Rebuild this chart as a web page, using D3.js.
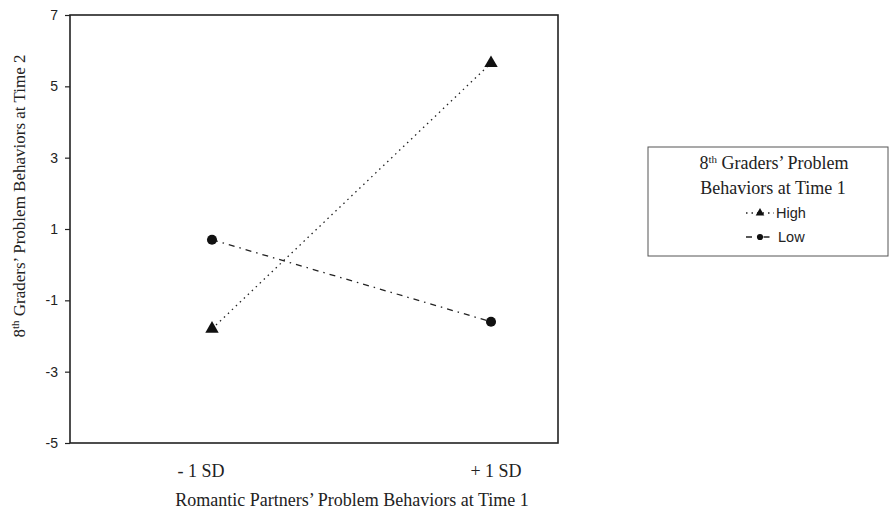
<!DOCTYPE html>
<html>
<head>
<meta charset="utf-8">
<script src="https://cdn.jsdelivr.net/npm/d3@7"></script>
<style>
body { margin: 0; background: #fff; }
.serif { font-family: "Liberation Serif", "Times New Roman", serif; }
.sans { font-family: "Liberation Sans", Arial, sans-serif; }
</style>
</head>
<body>
<svg width="889" height="514"></svg>
<script>
// data
var categories = ["- 1 SD", "+ 1 SD"];
var highValues = [-1.8, 5.65];
var lowValues = [0.7, -1.6];
var yTicks = [-5, -3, -1, 1, 3, 5, 7];
var seriesNames = ["High", "Low"];

var svg = d3.select("svg");
var margin = {top: 15, left: 70};
var width = 488, height = 428;

var xScale = d3.scalePoint().domain(categories).range([142, 421]);
var xLabelScale = d3.scalePoint().domain(categories).range([131, 426]);
var yScale = d3.scaleLinear().domain([-5, 7]).range([height, 0]);

var g = svg.append("g")
    .attr("transform", "translate(" + margin.left + "," + margin.top + ")");

// frame
g.append("rect")
    .attr("x", 0).attr("y", 0)
    .attr("width", width).attr("height", height)
    .attr("fill", "none").attr("stroke", "#222").attr("stroke-width", 1.6);

// y axis
var yAxis = d3.axisLeft(yScale)
    .tickValues(yTicks)
    .tickSize(5)
    .tickPadding(7)
    .tickFormat(function (d) { return String(d); });
var yAxisG = g.append("g").call(yAxis);
yAxisG.select(".domain").remove();
yAxisG.selectAll("line").attr("stroke", "#222").attr("stroke-width", 1.2);
yAxisG.selectAll("text")
    .attr("class", "sans")
    .style("font-size", "14px")
    .attr("fill", "#222");

// x labels
g.selectAll(".xlab")
    .data(categories)
    .enter().append("text")
    .attr("class", "serif")
    .attr("x", function (d) { return xLabelScale(d); })
    .attr("y", height + 34)
    .attr("text-anchor", "middle")
    .style("font-size", "18px")
    .attr("fill", "#222")
    .text(function (d) { return d; });

// axis titles
svg.append("text")
    .attr("class", "serif")
    .attr("x", 352).attr("y", 506)
    .attr("text-anchor", "middle")
    .style("font-size", "18px")
    .attr("fill", "#222")
    .text("Romantic Partners\u2019 Problem Behaviors at Time 1");

var yt = svg.append("text")
    .attr("class", "serif")
    .attr("transform", "translate(25,196) rotate(-90)")
    .attr("text-anchor", "middle")
    .style("font-size", "17px")
    .attr("fill", "#222");
yt.append("tspan").text("8");
yt.append("tspan").attr("dy", -6).style("font-size", "11px").text("th");
yt.append("tspan").attr("dy", 6).text(" Graders\u2019 Problem Behaviors at Time 2");

// lines
var line = d3.line()
    .x(function (d, i) { return xScale(categories[i]); })
    .y(function (d) { return yScale(d); });

var dashes = ["1.5,4", "6,5,1.5,5"];
[highValues, lowValues].forEach(function (vals, k) {
    g.append("path")
        .datum(vals)
        .attr("d", line)
        .attr("fill", "none")
        .attr("stroke", "#222")
        .attr("stroke-width", 1.3)
        .attr("stroke-dasharray", dashes[k]);
});

var triangle = d3.symbol().type(d3.symbolTriangle).size(78);
var circle = d3.symbol().type(d3.symbolCircle).size(80);

g.selectAll(".tri")
    .data(highValues)
    .enter().append("path")
    .attr("transform", function (d, i) {
        return "translate(" + [xScale(categories[i]), yScale(d)] + ")";
    })
    .attr("d", triangle)
    .attr("fill", "#111");

g.selectAll(".cir")
    .data(lowValues)
    .enter().append("path")
    .attr("transform", function (d, i) {
        return "translate(" + [xScale(categories[i]), yScale(d)] + ")";
    })
    .attr("d", circle)
    .attr("fill", "#111");

// legend
var lg = svg.append("g").attr("transform", "translate(648,147)");
lg.append("rect")
    .attr("width", 240).attr("height", 109)
    .attr("fill", "#fff").attr("stroke", "#555").attr("stroke-width", 1);

var t1 = lg.append("text")
    .attr("class", "serif")
    .attr("x", 126).attr("y", 22)
    .attr("text-anchor", "middle")
    .style("font-size", "18px")
    .attr("fill", "#222");
t1.append("tspan").text("8");
t1.append("tspan").attr("dy", -6).style("font-size", "11px").text("th");
t1.append("tspan").attr("dy", 6).text(" Graders\u2019 Problem");

lg.append("text")
    .attr("class", "serif")
    .attr("x", 125).attr("y", 47)
    .attr("text-anchor", "middle")
    .style("font-size", "18px")
    .attr("fill", "#222")
    .text("Behaviors at Time 1");

var symbols = [d3.symbol().type(d3.symbolTriangle).size(32), d3.symbol().type(d3.symbolCircle).size(30)];
seriesNames.forEach(function (name, k) {
    var yy = 66 + k * 24;
    lg.append("line")
        .attr("x1", 98).attr("x2", 126)
        .attr("y1", yy).attr("y2", yy)
        .attr("stroke", "#222").attr("stroke-width", 1.3)
        .attr("stroke-dasharray", dashes[k]);
    lg.append("path")
        .attr("transform", "translate(" + [112, yy] + ")")
        .attr("d", symbols[k])
        .attr("fill", "#111");
    lg.append("text")
        .attr("class", "sans")
        .attr("x", 128 + k * 2).attr("y", yy + 5)
        .style("font-size", "14.5px")
        .attr("fill", "#222")
        .text(name);
});
</script>
</body>
</html>
